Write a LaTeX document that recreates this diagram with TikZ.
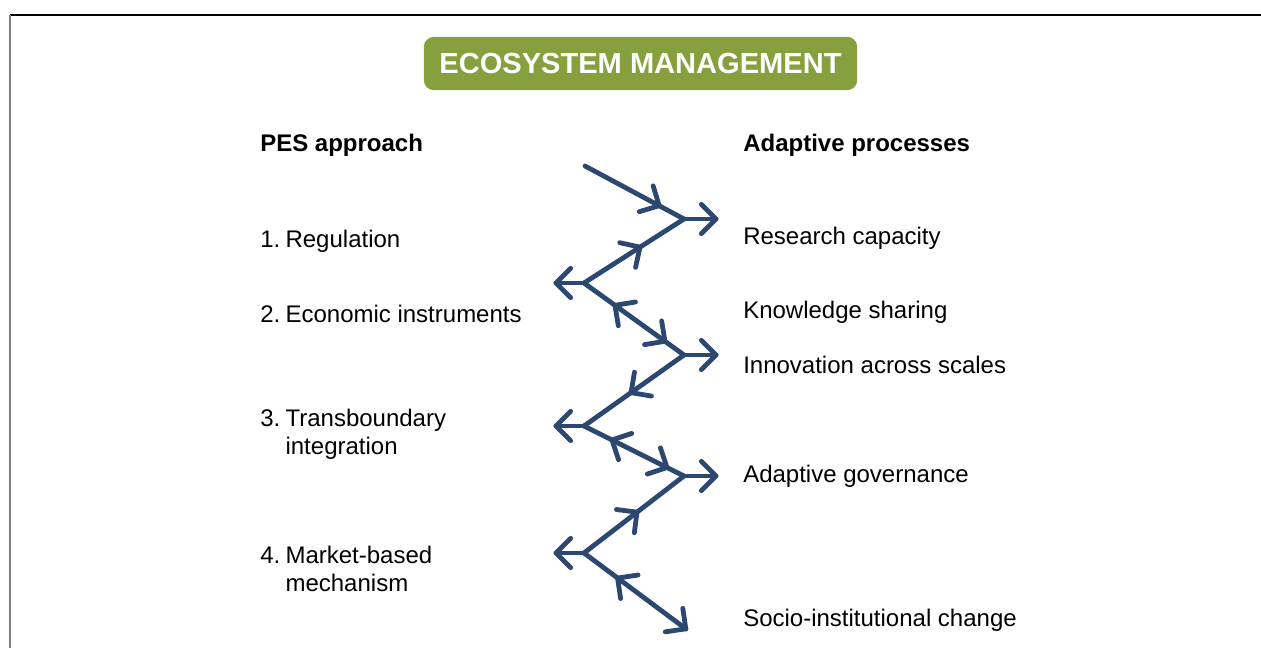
\documentclass[tikz,border=0pt]{standalone}
\usepackage{fontspec}
\setmainfont{Liberation Sans}
\usetikzlibrary{decorations.markings}
\definecolor{navy}{RGB}{44,71,112}
\definecolor{olivegreen}{RGB}{135,160,62}
\definecolor{framegray}{RGB}{128,128,128}
\newcommand{\chevF}{\draw[navy,line width=3.6pt,line cap=round,line join=round] (-11pt,11pt) -- (0,0) -- (-11pt,-11pt);}
\newcommand{\chevB}{\draw[navy,line width=3.6pt,line cap=round,line join=round] (11pt,11pt) -- (0,0) -- (11pt,-11pt);}
\tikzset{
  fw/.style={postaction={decorate,decoration={markings,mark=at position #1 with {\chevF}}}},
  bw/.style={postaction={decorate,decoration={markings,mark=at position #1 with {\chevB}}}},
  zz/.style={navy,line width=3.6pt,line cap=round},
  txt/.style={anchor=base west,inner sep=0pt,font=\fontsize{18pt}{21pt}\selectfont,align=left},
  hdr/.style={txt,font=\fontsize{18pt}{21pt}\selectfont\bfseries},
  titlebox/.style={fill=olivegreen,rounded corners=7.5pt,minimum width=325pt,minimum height=40pt,inner sep=0pt,text=white,font=\fontsize{21.8pt}{26pt}\selectfont\bfseries}
}
\begin{document}
\begin{tikzpicture}[x=0.75pt,y=-0.75pt]
\useasboundingbox (0,0) rectangle (1261,648);
% frame
\draw[black,line width=1.1pt] (10,15) -- (1261,15);
\draw[framegray,line width=1.7pt] (10,15) -- (10,648);
% title
\node[titlebox] (title) at (640.5,63.5) {ECOSYSTEM MANAGEMENT};
% headers
\node[hdr] (pes) at (260,152) {PES approach};
\node[hdr] (adp) at (743,152) {Adaptive processes};
% left items
\node[txt] (l1) at (260,248) {1.\hspace{0.22em}Regulation};
\node[txt] (l2) at (260,323) {2.\hspace{0.22em}Economic instruments};
\node[txt] (l3) at (260,455) {3.\hspace{0.22em}Transboundary\\\phantom{3.}\hspace{0.22em}integration};
\node[txt] (l4) at (260,591) {4.\hspace{0.22em}Market-based\\\phantom{4.}\hspace{0.22em}mechanism};
% right items
\node[txt] (r1) at (743,245) {Research capacity};
\node[txt] (r2) at (743,319) {Knowledge sharing};
\node[txt] (r3) at (743,374) {Innovation across scales};
\node[txt] (r4) at (743,483) {Adaptive governance};
\node[txt] (r5) at (743,626) {Socio-institutional change};
% zigzag coordinates
\coordinate (S) at (585,166);
\coordinate (R1) at (684,219);
\coordinate (T1) at (716,219);
\coordinate (L1) at (584,283);
\coordinate (T2) at (556,283);
\coordinate (R2) at (684,355);
\coordinate (T3) at (716,355);
\coordinate (L2) at (584,426);
\coordinate (T4) at (556,426);
\coordinate (R3) at (684,476);
\coordinate (T5) at (716,476);
\coordinate (L3) at (584,553);
\coordinate (T6) at (556,553);
\coordinate (E) at (686,629);
% zigzag
\draw[zz,fw=0.75] (S) -- (R1);
\draw[zz,fw=1] (R1) -- (T1);
\draw[zz,bw=0.44] (R1) -- (L1);
\draw[zz,fw=1] (L1) -- (T2);
\draw[zz,bw=0.31,fw=0.81] (L1) -- (R2);
\draw[zz,fw=1] (R2) -- (T3);
\draw[zz,fw=0.53] (R2) -- (L2);
\draw[zz,fw=1] (L2) -- (T4);
\draw[zz,bw=0.28,fw=0.83] (L2) -- (R3);
\draw[zz,fw=1] (R3) -- (T5);
\draw[zz,bw=0.47] (R3) -- (L3);
\draw[zz,fw=1] (L3) -- (T6);
\draw[zz,bw=0.33,fw=1] (L3) -- (E);
\end{tikzpicture}
\end{document}
